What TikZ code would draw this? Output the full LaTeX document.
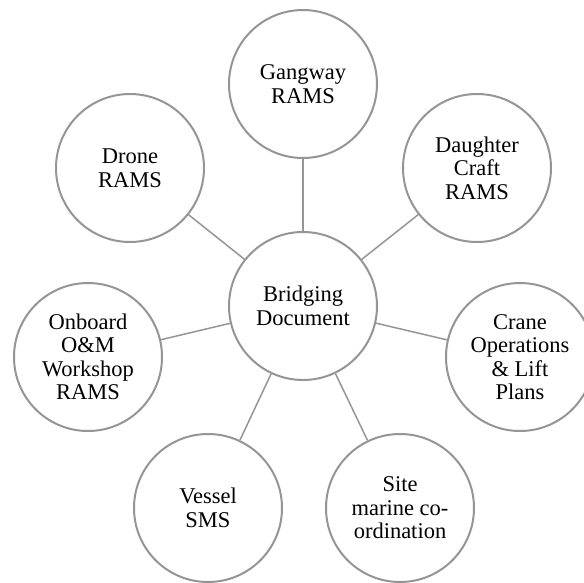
\documentclass[tikz,border=0pt]{standalone}
\usepackage{fontspec}
\setmainfont{Liberation Serif}
\usepackage{xcolor}
\usepackage{tikz}
\definecolor{ringGray}{HTML}{959595}

\begin{document}
\begin{tikzpicture}[
  x=1pt, y=-1pt,
  font=\fontsize{22.5}{23.5}\selectfont,
  bubble/.style={circle, draw=ringGray, line width=2pt, fill=white, align=center, inner sep=0pt, minimum size=148pt},
  link/.style={draw=ringGray, line width=1.5pt},
]
\useasboundingbox (0,0) rectangle (584,582);
\node[bubble] (bridge) at (303,306) {Bridging\\Document};
\node[bubble] (gangway) at (303,84) {Gangway\\RAMS};
\node[bubble] (drone) at (130,168) {Drone\\RAMS};
\node[bubble] (daughter) at (477,168) {Daughter\\Craft\\RAMS};
\node[bubble] (onboard) at (88,357) {Onboard\\O\&M\\Workshop\\RAMS};
\node[bubble] (crane) at (520,357) {Crane\\Operations\\\& Lift\\Plans};
\node[bubble] (site) at (400,508) {Site\\marine co-\\ordination};
\node[bubble] (vessel) at (208,508) {Vessel\\SMS};

\foreach \spoke in {gangway,drone,daughter,onboard,crane,site,vessel}
  \draw[link] (bridge) -- (\spoke);
\end{tikzpicture}
\end{document}
